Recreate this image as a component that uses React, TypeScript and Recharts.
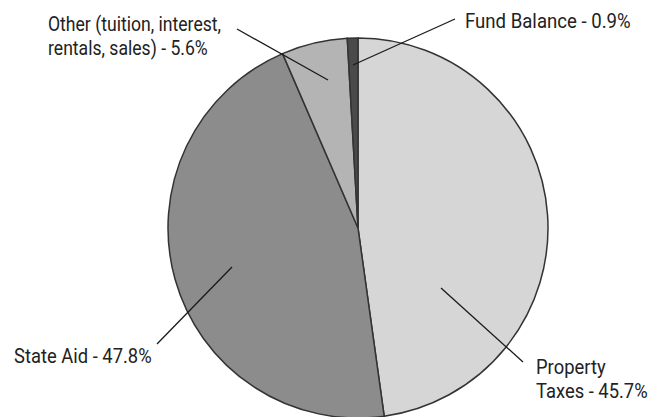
import React from "react";
import { PieChart, Pie, Cell } from "recharts";

// Slice values as drawn, clockwise from 12 o'clock
const sliceNames = ["Property Taxes", "State Aid", "Other", "Fund Balance"];
const sliceValues = [47.8, 45.7, 5.6, 0.9];
const sliceLabels: string[][] = [
  ["Property", "Taxes - 45.7%"],
  ["State Aid - 47.8%"],
  ["Other (tuition, interest,", "rentals, sales) - 5.6%"],
  ["Fund Balance - 0.9%"],
];

const sliceColors = ["#d6d6d6", "#8c8c8c", "#b4b4b4", "#4a4a4a"];

// label layout: line start/end and text position relative to pie center
const labelLayout = [
  { sx: 83, sy: 60, ex: 165, ey: 134, tx: 178, ty: 146, k: 0.92 },
  { sx: -126, sy: 39, ex: -201, ey: 116, tx: -344, ty: 135, k: 0.92 },
  { sx: -30, sy: -148, ex: -121, ey: -199, tx: -310, ty: -197, k: 0.88 },
  { sx: -5, sy: -163, ex: 97, ey: -209, tx: 107, ty: -200, k: 0.93 },
];

const data = sliceNames.map((name, i) => ({ name, value: sliceValues[i] }));

const FONT = "Roboto, 'Liberation Sans', sans-serif";

const renderLabel = (props: any) => {
  const { cx, cy, index } = props;
  const l = labelLayout[index];
  const lines = sliceLabels[index];
  return (
    <g key={`lbl-${index}`}>
      <line x1={cx + l.sx} y1={cy + l.sy} x2={cx + l.ex} y2={cy + l.ey} stroke="#1a1a1a" strokeWidth={1.3} />
      <g transform={`translate(${cx + l.tx},${cy + l.ty}) scale(${l.k},1)`}>
        <text x={0} y={0} fill="#222" fontSize={20} fontFamily={FONT} textAnchor="start">
          {lines.map((t, k) => (
            <tspan key={k} x={0} dy={k === 0 ? 0 : 24}>
              {t}
            </tspan>
          ))}
        </text>
      </g>
    </g>
  );
};

export default function App() {
  return (
    <div style={{ position: "absolute", left: 0, top: 0, width: 667, height: 417, background: "#fff" }}>
      <PieChart width={667} height={417} margin={{ top: 0, right: 0, bottom: 0, left: 0 }}>
        <Pie
          data={data}
          dataKey="value"
          nameKey="name"
          cx={358}
          cy={228}
          outerRadius={190}
          startAngle={90}
          endAngle={-270}
          stroke="#333"
          strokeWidth={1.5}
          label={renderLabel}
          labelLine={false}
          isAnimationActive={false}
        >
          {data.map((d, i) => (
            <Cell key={d.name} fill={sliceColors[i]} />
          ))}
        </Pie>
      </PieChart>
    </div>
  );
}
